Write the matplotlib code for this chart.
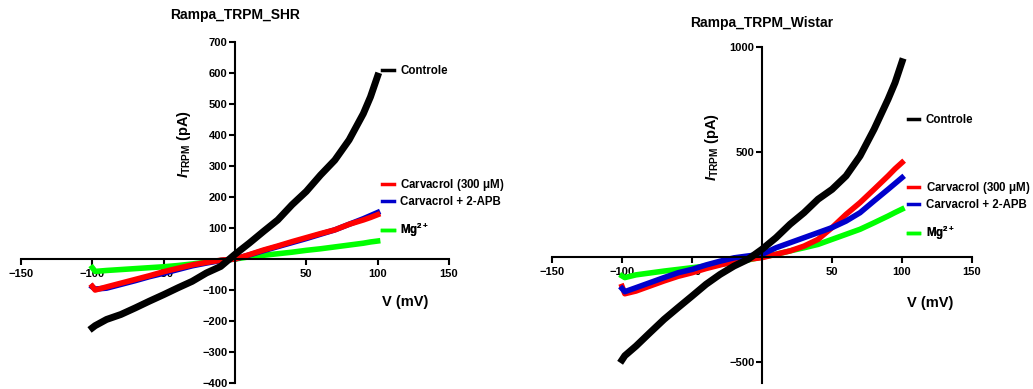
import numpy as np
import matplotlib
matplotlib.use('Agg')
import matplotlib.pyplot as plt
from matplotlib.lines import Line2D

plt.rcParams['font.family'] = 'Liberation Sans'
plt.rcParams['font.weight'] = 'bold'
plt.rcParams['mathtext.fontset'] = 'custom'
plt.rcParams['mathtext.rm'] = 'Liberation Sans:bold'
plt.rcParams['mathtext.it'] = 'Liberation Sans:italic:bold'
plt.rcParams['mathtext.bf'] = 'Liberation Sans:bold'

# voltage steps (mV)
v = [-100, -98, -90, -80, -70, -60, -50, -40, -30, -20, -10, 0,
     10, 20, 30, 40, 50, 60, 70, 80, 90, 95, 100]

# SHR currents (pA)
shr_ctrl = [-222, -215, -195, -179, -158, -136, -115, -93, -72, -45, -24, 15,
            51, 89, 126, 175, 218, 271, 319, 384, 469, 523, 590]
shr_carv = [-88, -100, -90, -78, -66, -54, -41, -30, -19, -11, -4, 0,
            14, 29, 42, 56, 69, 82, 94, 112, 126, 134, 143]
shr_apb = [-90, -97, -94, -82, -70, -57, -46, -34, -22, -13, -5, 0,
           13, 27, 40, 53, 66, 80, 94, 112, 130, 140, 150]
shr_mg = [-28, -40, -37, -34, -31, -28, -25, -21, -16, -10, -5, 0,
          7, 12, 17, 22, 28, 33, 39, 45, 51, 55, 58]

# Wistar currents (pA)
wis_ctrl = [-490, -470, -424, -360, -297, -241, -186, -130, -83, -43, -11, 37,
            92, 156, 211, 275, 322, 386, 481, 608, 751, 830, 930]
wis_carv = [-140, -175, -162, -138, -114, -92, -75, -55, -38, -22, -11, -3,
            13, 29, 52, 84, 140, 203, 259, 322, 386, 420, 450]
wis_apb = [-150, -165, -146, -122, -98, -75, -59, -38, -20, -4, 5, 13,
           44, 68, 92, 116, 140, 171, 211, 267, 322, 350, 378]
wis_mg = [-90, -98, -85, -76, -67, -59, -51, -43, -35, -26, -14, 0,
          13, 29, 44, 60, 84, 108, 132, 163, 195, 212, 228]

labels = ['Controle', 'Carvacrol (300 $\\mathregular{\\mu}$M)', 'Carvacrol + 2-APB', 'Mg$^{2+}$']
colors = ['black', '#ff0000', '#0000cc', '#00ff00']

fig = plt.figure(figsize=(10.33, 3.89), dpi=100)
ax1 = fig.add_axes([0.0203, 0.0154, 0.4143, 0.8766])
ax2 = fig.add_axes([0.5344, 0.0154, 0.4066, 0.8638])


def style(ax, ylim, yticks, title, pad, ylab_pos, xlab_pos):
    ax.set_xlim(-150, 150)
    ax.set_ylim(*ylim)
    for s in ['top', 'right']:
        ax.spines[s].set_visible(False)
    ax.spines['left'].set_position(('data', 0))
    ax.spines['bottom'].set_position(('data', 0))
    ax.spines['left'].set_linewidth(1.5)
    ax.spines['bottom'].set_linewidth(1.5)
    ax.set_xticks([-150, -100, -50, 50, 100, 150])
    ax.set_yticks(yticks)
    ax.tick_params(axis='x', width=1.5, length=4, labelsize=8, pad=3)
    ax.tick_params(axis='y', width=1.5, length=4, labelsize=8, pad=1.5)
    ax.patch.set_alpha(0)
    ax.set_title(title, fontsize=10, fontweight='bold', pad=pad)
    ax.text(ylab_pos[0], ylab_pos[1], '$\\mathit{I}_{\\mathregular{TRPM}}$ (pA)',
            rotation=90, ha='center', va='center', fontsize=10.5)
    ax.text(xlab_pos[0], xlab_pos[1], 'V (mV)', ha='center', va='center', fontsize=10.5)


def legends(ax, x0, ys):
    handles = [Line2D([], [], color=c, lw=2.5) for c in colors]
    groups = [[0], [1, 2], [3]]
    for g, y in zip(groups, ys):
        leg = ax.legend([handles[i] for i in g], [labels[i] for i in g],
                        loc='upper left', bbox_to_anchor=(x0, y),
                        frameon=False, fontsize=8.3, handlelength=1.0,
                        handletextpad=0.55, labelspacing=0.25, borderpad=0)
        ax.add_artist(leg)


# SHR
ax1.plot(v, shr_mg, color=colors[3], lw=4)
ax1.plot(v, shr_apb, color=colors[2], lw=4)
ax1.plot(v, shr_carv, color=colors[1], lw=4)
ax1.plot(v, shr_ctrl, color=colors[0], lw=5)
style(ax1, (-400, 700), list(range(-400, 0, 100)) + list(range(100, 701, 100)),
      'Rampa_TRPM_SHR', 16.5, (-36, 370), (119, -139))
legends(ax1, 0.831, [0.95, 0.62, 0.492])

# Wistar
ax2.plot(v, wis_mg, color=colors[3], lw=4)
ax2.plot(v, wis_carv, color=colors[1], lw=4)
ax2.plot(v, wis_apb, color=colors[2], lw=4)
ax2.plot(v, wis_ctrl, color=colors[0], lw=5)
style(ax2, (-600, 1000), [-500, 500, 1000],
      'Rampa_TRPM_Wistar', 14.5, (-36, 524), (120, -219))
legends(ax2, 0.833, [0.819, 0.621, 0.49])

fig.savefig('out.png', dpi=100)
